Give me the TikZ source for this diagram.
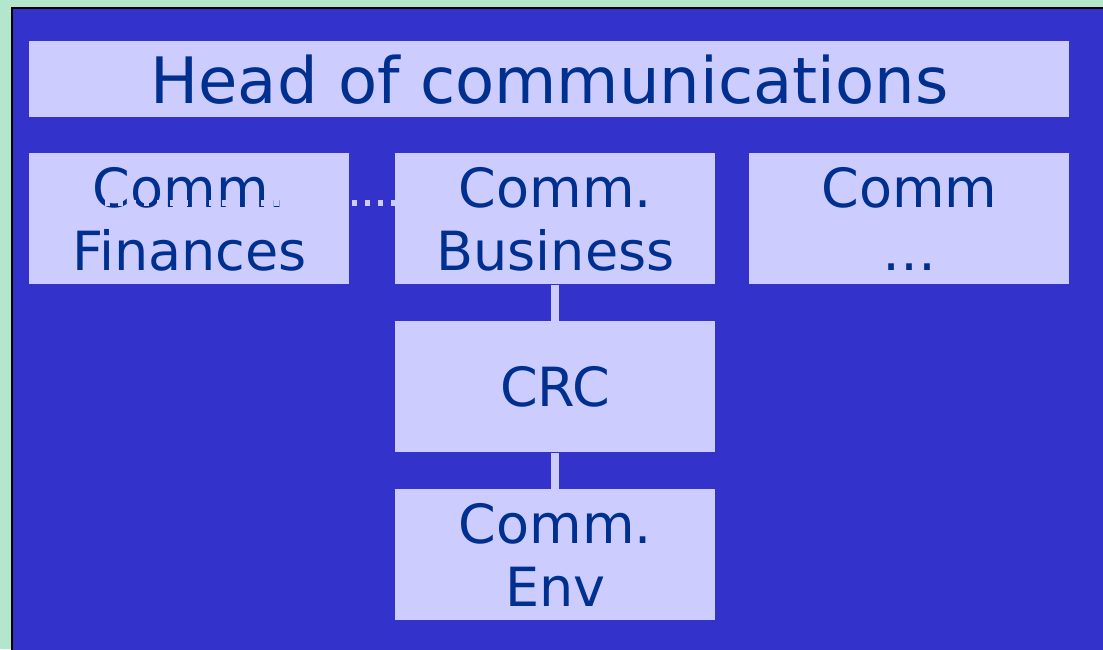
\documentclass[tikz,border=0pt]{standalone}
\usepackage{fontspec}
\setmainfont{DejaVu Sans}
\definecolor{mintbg}{HTML}{B3E6CC}
\definecolor{panelblue}{HTML}{3333CC}
\definecolor{boxlav}{HTML}{CCCCFF}
\definecolor{navytext}{HTML}{00308F}

\begin{document}
\begin{tikzpicture}[x=0.5pt,y=-0.5pt,
  orgbox/.style={fill=boxlav, anchor=north west, inner sep=0pt, align=center,
    text=navytext, minimum width=160pt, minimum height=65.5pt,
    font={\fontsize{27}{31.5}\selectfont}}]

\clip (0,0) rectangle (1103,649);
\fill [mintbg] (0,0) rectangle (1103,649);
\draw [draw=black, fill=panelblue, line width=1.2pt] (12,8) rectangle (1130,680);

\node [orgbox, minimum width=520pt, minimum height=38pt,
font={\fontsize{32}{32}\selectfont}] (head) at (29,41) {Head of communications};

\node [orgbox] (fin) at (29,153) {Comm.\\Finances};
\node [orgbox] (bus) at (395,153) {Comm.\\Business};
\node [orgbox] (other) at (749,153) {Comm\\\ldots};
\node [orgbox] (crc) at (395,321) {CRC};
\node [orgbox] (env) at (395,489) {Comm.\\Env};

\draw [boxlav, line width=4pt] (bus.south) -- (crc.north);
\draw [boxlav, line width=4pt] (crc.south) -- (env.north);

\draw [boxlav, line width=3pt, dash pattern=on 2.5pt off 4pt, dash phase=1pt]
  ([yshift=8pt]fin.west) -- ([yshift=8pt]bus.west);

\end{tikzpicture}
\end{document}
